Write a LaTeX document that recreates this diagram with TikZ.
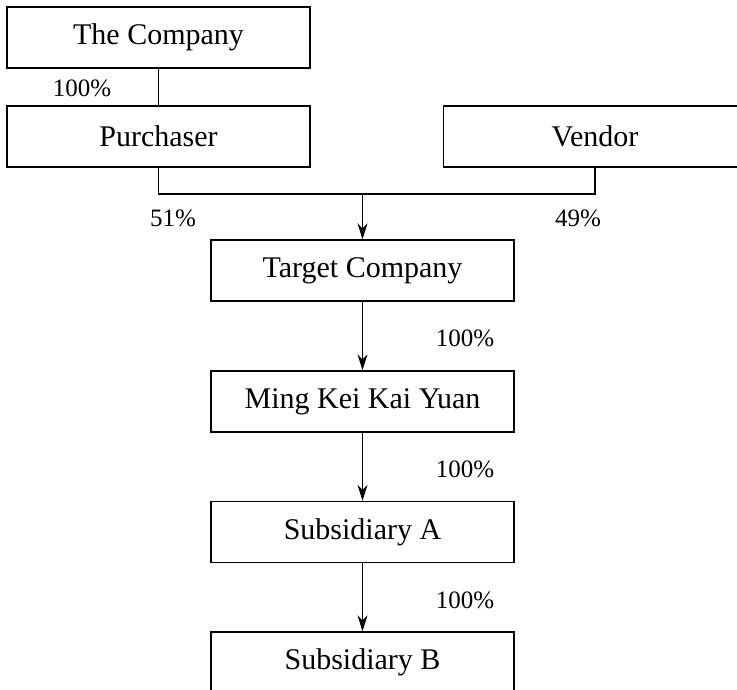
\documentclass[tikz,border=0pt]{standalone}
\usepackage{fontspec}
\setmainfont{Liberation Serif}
\usetikzlibrary{arrows.meta}
\tikzset{entity/.style = {draw, line width = 0.7pt, minimum width = 151.5pt, minimum height = 30.5pt, inner sep = 0, font = \fontsize{15}{18}\selectfont}}
\tikzset{share/.style = {font = \fontsize{12.5}{15}\selectfont, inner sep = 0}}
\tikzset{link/.style = {line width = 0.7pt}}
\tikzset{owns/.style = {link, -{Stealth[length=8pt, width=5pt, inset=2.5pt]}}}

\begin{document}
\begin{tikzpicture}[x=0.5pt, y=-0.5pt]
      \clip (0, 0) rectangle (737, 689);
      \node [entity] (company) at (158.5, 37.5) {The Company};
      \node [entity] (purchaser) at (158.5, 136.5) {Purchaser};
      \node [entity] (vendor) at (595, 136.5) {Vendor};
      \node [entity] (target) at (362.5, 270.5) {Target Company};
      \node [entity] (ming) at (362.5, 401.5) {Ming Kei Kai Yuan};
      \node [entity] (suba) at (362.5, 532) {Subsidiary A};
      \node [entity] (subb) at (362.5, 662.5) {Subsidiary B};
      \coordinate (split) at (362.5, 194);
      % ownership lines
      \draw [link] (company) -- (purchaser);
      \draw [link] (purchaser.south) |- (split) -| (vendor.south);
      \draw [owns] (split) -- (target.north);
      \draw [owns] (target) -- (ming);
      \draw [owns] (ming) -- (suba);
      \draw [owns] (suba) -- (subb);
      % percentages
      \node [share] (pc1) at (82, 88) {100\%};
      \node [share] (pc2) at (173, 218) {51\%};
      \node [share] (pc3) at (578, 218) {49\%};
      \node [share] (pc4) at (465, 338) {100\%};
      \node [share] (pc5) at (465, 469) {100\%};
      \node [share] (pc6) at (465, 600) {100\%};
    \end{tikzpicture}
\end{document}
